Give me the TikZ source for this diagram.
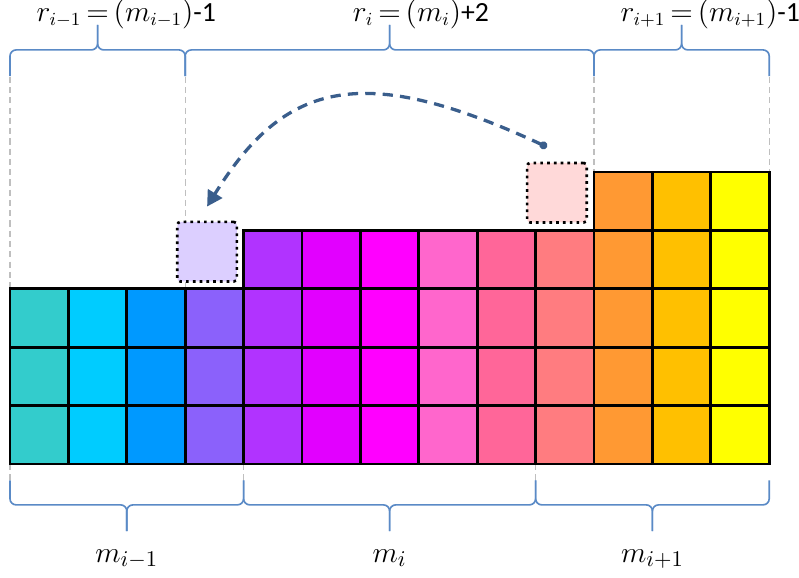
\documentclass[tikz,border=0pt]{standalone}
\usepackage{fontspec}
\newfontfamily\calfont{Carlito}
\usetikzlibrary{arrows.meta}
\definecolor{colA}{HTML}{33CCCC}
\definecolor{colB}{HTML}{00CCFF}
\definecolor{colC}{HTML}{0099FF}
\definecolor{colD}{HTML}{8B61FB}
\definecolor{colE}{HTML}{B133FF}
\definecolor{colF}{HTML}{E200FF}
\definecolor{colG}{HTML}{FF00FF}
\definecolor{colH}{HTML}{FF66CC}
\definecolor{colI}{HTML}{FF6699}
\definecolor{colJ}{HTML}{FF7C80}
\definecolor{colK}{HTML}{FF9933}
\definecolor{colL}{HTML}{FFC000}
\definecolor{colM}{HTML}{FFFF00}
\definecolor{lilac}{HTML}{DCCFFF}
\definecolor{blush}{HTML}{FFD9D9}
\definecolor{bracecol}{HTML}{5A8AC6}
\definecolor{movecol}{HTML}{3A5E8C}
% brace over a span, tip in the middle
\newcommand\topbrace[3]{%
  \draw[brc] (#1,#3-0.45) |- ({(#1+#2)/2},#3) -- ++(0,0.43);
  \draw[brc] (#2,#3-0.45) |- ({(#1+#2)/2},#3) -- ++(0,0.43);}
\newcommand\botbrace[3]{%
  \draw[brc] (#1,#3+0.42) |- ({(#1+#2)/2},#3) -- ++(0,-0.45);
  \draw[brc] (#2,#3+0.42) |- ({(#1+#2)/2},#3) -- ++(0,-0.45);}
\begin{document}
\begin{tikzpicture}[x=1cm, y=1cm,
    cell/.style={draw=black, line width=1.4pt},
    movebox/.style={draw=black, dotted, line width=1.3pt, rounded corners=1.5pt,
      minimum size=1.02cm, inner sep=0pt},
    brc/.style={draw=bracecol, line width=0.8pt, rounded corners=3pt},
    guide/.style={draw=gray!50, dashed, dash pattern=on 3pt off 2pt, line width=0.6pt},
    mv/.style={draw=movecol, line width=1.6pt, dash pattern=on 5pt off 3.5pt},
    toplbl/.style={font=\fontsize{13.5}{16}\selectfont, anchor=base},
    botlbl/.style={font=\fontsize{15}{17}\selectfont, anchor=base}]
  \useasboundingbox (-0.171,-1.952) rectangle (13.51,7.945);
  % guide lines from the braces down to the blocks
  \draw[guide] (0,6.63) -- (0,3);
  \draw[guide] (3,6.63) -- (3,3);
  \draw[guide] (10,6.63) -- (10,5);
  \draw[guide] (13,6.63) -- (13,5);
  \foreach \gx in {0,4,9} \draw[guide] (\gx,0) -- (\gx,-0.29);
  % columns: position / height / colour
  \foreach \c/\h/\col in {0/3/colA, 1/3/colB, 2/3/colC, 3/3/colD,
      4/4/colE, 5/4/colF, 6/4/colG, 7/4/colH, 8/4/colI, 9/4/colJ,
      10/5/colK, 11/5/colL, 12/5/colM} {
    \foreach \r in {1,...,\h}
      \draw[cell, fill=\col] (\c,\r-1) rectangle ++(1,1);
  }
  % the block that moves
  \node[movebox, fill=lilac] (lilacbox) at (3.375,3.635) {};
  \node[movebox, fill=blush] (blushbox) at (9.365,4.645) {};
  \coordinate (mvfrom) at ([shift={(-0.17,0.25)}]blushbox.north);
  \coordinate (mvto) at ([yshift=0.24cm]lilacbox.north);
  \draw[mv, {Circle[length=3.8pt]}-{Triangle[length=7.5pt, width=8pt]}]
    (mvfrom) .. controls (6.02,6.9) and (4.7,6.55) .. (mvto);
  % braces and labels
  \topbrace{0}{3}{7.09}
  \topbrace{3}{10}{7.09}
  \topbrace{10}{13}{7.09}
  \node[toplbl] (rprev) at (1.5,7.58) {\llap{$r_{i-1}\,$}$=$\rlap{$\,(m_{i-1})$\calfont-1}};
  \node[toplbl] (rcur) at (6.5,7.58) {\llap{$r_{i}\,$}$=$\rlap{$\,(m_{i})$\calfont+2}};
  \node[toplbl] (rnext) at (11.5,7.58) {\llap{$r_{i+1}\,$}$=$\rlap{$\,(m_{i+1})$\calfont-1}};
  \botbrace{0}{4}{-0.70}
  \botbrace{4}{9}{-0.70}
  \botbrace{9}{13}{-0.70}
  \node[botlbl] (mprev) at (2,-1.68) {$m_{i-1}$};
  \node[botlbl] (mcur) at (6.5,-1.68) {$m_{i}$};
  \node[botlbl] (mnext) at (11,-1.68) {$m_{i+1}$};
\end{tikzpicture}
\end{document}
